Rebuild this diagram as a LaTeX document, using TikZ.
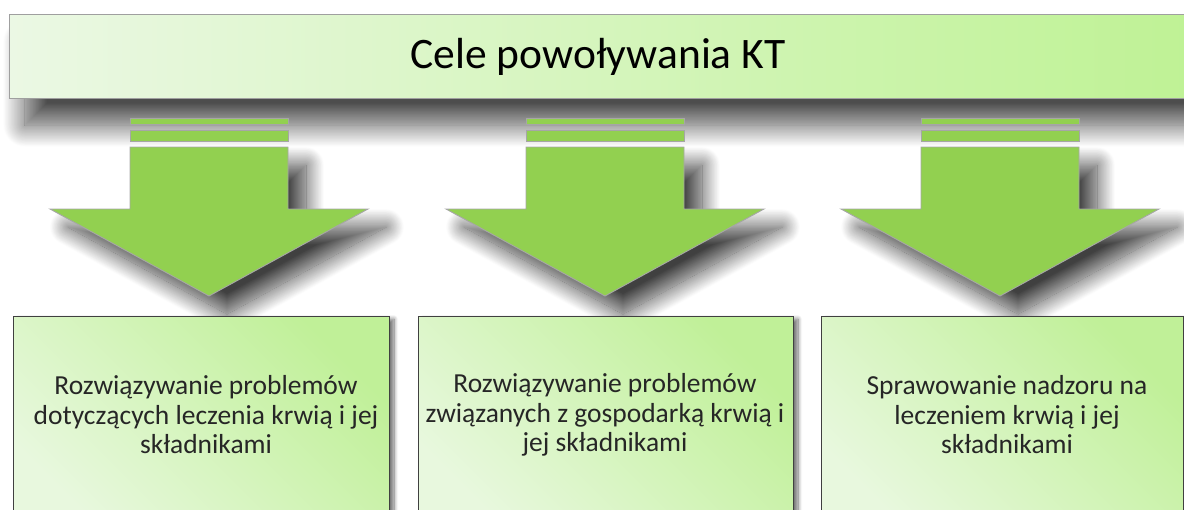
\documentclass[tikz,border=0pt]{standalone}
\usepackage{fontspec}
\setmainfont{Carlito}
\usetikzlibrary{shadows.blur}
\definecolor{bannerL}{HTML}{EBF8E4}
\definecolor{bannerR}{HTML}{BFF295}
\definecolor{boxLight}{HTML}{E8F8DE}
\definecolor{boxDark}{HTML}{C0F098}
\definecolor{arrowgreen}{HTML}{92D050}
\tikzset{
  banner/.style={draw=gray!75, line width=1pt, left color=bannerL, right color=bannerR,
    blur shadow={shadow xshift=16pt, shadow yshift=-27pt, shadow blur radius=22pt,
      shadow blur steps=30, shadow opacity=70}},
  goalbox/.style={draw=black!75, line width=0.9pt, left color=boxLight, right color=boxDark, shading angle=135,
    blur shadow={shadow xshift=5pt, shadow yshift=-3pt, shadow blur radius=4pt,
      shadow blur steps=10, shadow opacity=55}},
  arrowpart/.style={fill=arrowgreen, draw=gray!70, line width=0.9pt},
  arrowshade/.style={arrowpart,
    blur shadow={shadow xshift=18pt, shadow yshift=-18pt, shadow blur radius=18pt,
      shadow blur steps=30, shadow opacity=75}},
  goaltext/.style={font=\fontsize{27.5}{29.5}\selectfont, align=center, text=black!85},
}
\begin{document}
\begin{tikzpicture}[x=1pt, y=-1pt]
  \useasboundingbox (0,0) rectangle (1184,509);
  \clip (0,0) rectangle (1184,509);

  % title banner
  \path[banner] (9,14) rectangle (1192,98);
  \node (title) at (598,57) {\fontsize{43.5}{50}\selectfont Cele powoływania KT};

  % three downward arrows with two bars above each
  \foreach \cx/\nm in {209/a, 605/b, 1000/c} {
    \path[arrowpart] (\cx-79,118) rectangle (\cx+79,124);
    \path[arrowpart] (\cx-79,130) rectangle (\cx+79,141);
    \path[arrowshade] (\cx-79,147) -- (\cx+79,147) -- (\cx+79,209) -- (\cx+159,209)
      -- (\cx,296) -- (\cx-159,209) -- (\cx-79,209) -- cycle;
    \coordinate (tip\nm) at (\cx,296);
  }

  % goal boxes
  \path[goalbox] (13,316) rectangle (389,530);
  \path[goalbox] (418,316) rectangle (793,530);
  \path[goalbox] (821,316) rectangle (1183,530);

  \node[goaltext] (g1) at (206,415) {Rozwiązywanie problemów\\dotyczących leczenia krwią i jej\\składnikami};
  \node[goaltext] (g2) at (605,415) {Rozwiązywanie problemów\\związanych z gospodarką krwią i\\jej składnikami};
  \node[goaltext] (g3) at (1007,415) {Sprawowanie nadzoru na\\leczeniem krwią i jej\\składnikami};
\end{tikzpicture}
\end{document}
